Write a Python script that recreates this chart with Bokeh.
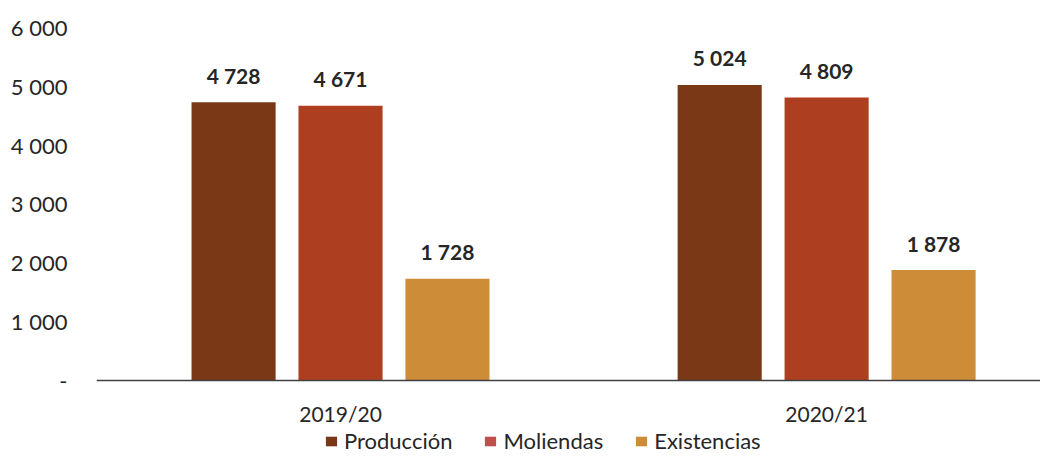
from bokeh.plotting import figure
from bokeh.models import ColumnDataSource, FixedTicker, LabelSet, Legend, LegendItem, Range1d, Span
from bokeh.core.properties import value
from bokeh.transform import dodge
from bokeh.embed import file_html
from bokeh.resources import INLINE

# ---- data ----
seasons = ["2019/20", "2020/21"]
produccion = [4728, 5024]
moliendas = [4671, 4809]
existencias = [1728, 1878]
series_names = ["Producción", "Moliendas", "Existencias"]
bar_colors = ["#7B3817", "#AE3E20", "#CD8D38"]
legend_colors = ["#7B3817", "#C0504D", "#CD8D38"]
y_ticks = [0, 1000, 2000, 3000, 4000, 5000, 6000]
y_tick_labels = ["-", "1 000", "2 000", "3 000", "4 000", "5 000", "6 000"]

FONT = "Lato"
TXT = "#262626"


def fmt(v):
    return f"{v:,}".replace(",", " ")


xs = list(range(len(seasons)))
src = ColumnDataSource(dict(
    x=xs, base=[0] * len(xs), season=seasons,
    produccion=produccion, moliendas=moliendas, existencias=existencias,
    t_produccion=[fmt(v) for v in produccion],
    t_moliendas=[fmt(v) for v in moliendas],
    t_existencias=[fmt(v) for v in existencias],
))

# frame: 6000 at y=27, 0 at y=380; frame runs to the canvas bottom
Y_BOTTOM = -1258
p = figure(width=1040, height=454, output_backend="svg", toolbar_location=None,
           x_range=Range1d(-0.502, 1.440), y_range=Range1d(Y_BOTTOM, 6000),
           min_border_left=96, min_border_right=0, min_border_top=27, min_border_bottom=0)
p.outline_line_color = None
p.grid.grid_line_color = None
p.background_fill_color = "white"
p.xaxis.visible = False

fields = ["produccion", "moliendas", "existencias"]
offsets = [-0.22, 0.0, 0.22]
width = 0.173
for f, off, col in zip(fields, offsets, bar_colors):
    p.vbar(x=dodge("x", off), top=f, width=width, bottom=0, source=src,
           fill_color=col, line_color=None)
    lbl = LabelSet(x=dodge("x", off), y=f, text="t_" + f, source=src,
                   text_align="center", text_baseline="middle", y_offset=27,
                   text_font=value(FONT), text_font_size=value("21px"),
                   text_font_style=value("bold"), text_color=value(TXT))
    p.add_layout(lbl)

# baseline (category axis line)
p.add_layout(Span(location=0, dimension="width", line_color="#404040", line_width=1.5))

# category labels
cat = LabelSet(x="x", y="base", text="season", source=src, text_align="center",
               text_baseline="middle", y_offset=-33, text_font=value(FONT),
               text_font_size=value("21px"), text_color=value(TXT))
p.add_layout(cat)

# legend-only swatches (zero-height bars)
leg_src = ColumnDataSource(dict(x=[0], top=[0]))
leg_items = []
for name, col in zip(series_names, legend_colors):
    r = p.vbar(x="x", top="top", bottom=0, width=0.0, source=leg_src,
               fill_color=col, line_color=None)
    leg_items.append(LegendItem(label=name, renderers=[r]))

legend = Legend(items=leg_items, orientation="horizontal", location=(228, 0),
                label_text_font=FONT, label_text_font_size="22px", label_text_color=TXT,
                glyph_width=14, glyph_height=12, label_standoff=6, spacing=31,
                padding=0, margin=0, background_fill_alpha=0, border_line_color=None,
                label_height=20)
p.add_layout(legend, "center")

# y axis
p.yaxis.ticker = FixedTicker(ticks=y_ticks)
p.yaxis.major_label_overrides = {t: l for t, l in zip(y_ticks, y_tick_labels)}
p.yaxis.axis_line_color = None
p.yaxis.major_tick_line_color = None
p.yaxis.minor_tick_line_color = None
p.yaxis.major_tick_out = 0
p.yaxis.major_tick_in = 0
p.yaxis.major_label_standoff = 29
p.yaxis.major_label_text_font = FONT
p.yaxis.major_label_text_font_size = "22px"
p.yaxis.major_label_text_color = TXT

open("out.html", "w").write(file_html(p, INLINE))
